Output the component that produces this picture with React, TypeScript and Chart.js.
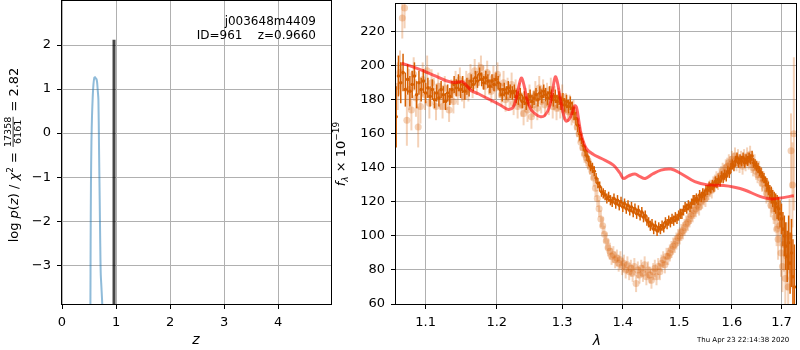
import React, { useEffect, useRef } from 'react';
import { Chart, registerables } from 'chart.js';

Chart.register(...registerables);

const FAMILY = '"DejaVu Sans", sans-serif';

// ---------- Left panel: log p(z) ----------
const zTicks = [0, 1, 2, 3, 4];
const logpTicks = [-3, -2, -1, 0, 1, 2];
const pzZ = [0.518, 0.526, 0.530, 0.536, 0.545, 0.556, 0.568, 0.582, 0.598, 0.612, 0.626, 0.640, 0.650, 0.660, 0.674, 0.686, 0.698, 0.708, 0.717, 0.730, 0.745, 0.760];
const pzLogP = [-5.0, -3.88, -2.5, -1.2, -0.2, 0.4, 0.8, 1.1, 1.26, 1.27, 1.24, 1.22, 1.15, 1.0, 0.76, -0.4, -1.52, -2.5, -3.18, -3.5, -3.88, -4.5];
const bestZ = [0.963, 0.963];
const bestLogP = [-5.0, 2.12];
const objName = 'j003648m4409';
const objInfo = 'ID=961    z=0.9660';

// ---------- Right panel: spectrum ----------
const lamTicks = [1.1, 1.2, 1.3, 1.4, 1.5, 1.6, 1.7];
const fluxTicks = [60, 80, 100, 120, 140, 160, 180, 200, 220];

const darkLam = [
  1.061, 1.064, 1.067, 1.070, 1.073, 1.076, 1.079, 1.082, 1.085, 1.088,
  1.091, 1.094, 1.097, 1.100, 1.103, 1.106, 1.109, 1.112, 1.115, 1.118,
  1.121, 1.124, 1.127, 1.130, 1.133, 1.136, 1.139, 1.142, 1.145, 1.148,
  1.151, 1.154, 1.157, 1.160, 1.163, 1.166, 1.169, 1.172, 1.175, 1.178,
  1.181, 1.184, 1.187, 1.190, 1.193, 1.196, 1.199, 1.202, 1.205, 1.208,
  1.211, 1.214, 1.217, 1.220, 1.223, 1.226, 1.229, 1.232, 1.235, 1.238,
  1.241, 1.244, 1.247, 1.250, 1.253, 1.256, 1.259, 1.262, 1.265, 1.268,
  1.271, 1.274, 1.277, 1.280, 1.283, 1.286, 1.289, 1.292, 1.295, 1.298,
  1.301, 1.304, 1.307, 1.310, 1.313, 1.316, 1.319, 1.322, 1.325, 1.328,
  1.331, 1.334, 1.337, 1.340, 1.343, 1.346, 1.349, 1.352, 1.355, 1.358,
  1.361, 1.364, 1.367, 1.370, 1.373, 1.376, 1.379, 1.382, 1.385, 1.388,
  1.391, 1.394, 1.397, 1.400, 1.403, 1.406, 1.409, 1.412, 1.415, 1.418,
  1.421, 1.424, 1.427, 1.430, 1.433, 1.436, 1.439, 1.442, 1.445, 1.448,
  1.451, 1.454, 1.457, 1.460, 1.463, 1.466, 1.469, 1.472, 1.475, 1.478,
  1.481, 1.484, 1.487, 1.490, 1.493, 1.496, 1.499, 1.502, 1.505, 1.508,
  1.511, 1.514, 1.517, 1.520, 1.523, 1.526, 1.529, 1.532, 1.535, 1.538,
  1.541, 1.544, 1.547, 1.550, 1.553, 1.556, 1.559, 1.562, 1.565, 1.568,
  1.571, 1.574, 1.577, 1.580, 1.583, 1.586, 1.589, 1.592, 1.595, 1.598,
  1.601, 1.604, 1.607, 1.610, 1.613, 1.616, 1.619, 1.622, 1.625, 1.628,
  1.631, 1.634, 1.637, 1.640, 1.643, 1.646, 1.649, 1.652, 1.655, 1.658,
  1.661, 1.664, 1.667, 1.670, 1.673, 1.676, 1.679, 1.682, 1.685, 1.688,
  1.691, 1.694, 1.697, 1.700, 1.703, 1.706, 1.709, 1.712, 1.715, 1.718,
  1.721, 1.724, 1.727,
];
const darkFlux = [
  170, 194, 190, 196, 186, 192, 185, 189, 194, 183,
  190, 186, 191, 184, 187, 182, 186, 180, 184, 181,
  186, 183, 179, 184, 182, 186, 189, 187, 190, 186,
  189, 185, 188, 187, 191, 189, 193, 191, 195, 192,
  190, 193, 191, 188, 191, 189, 192, 190, 186, 183,
  186, 184, 187, 185, 184, 185, 182, 181, 183, 179,
  181, 178, 180, 182, 179, 181, 183, 180, 184, 182,
  185, 183, 181, 184, 182, 180, 182, 179, 181, 178,
  180, 177, 179, 176, 178, 175, 172, 169, 165, 160,
  157, 153, 150, 147, 144, 141, 140, 138, 134, 131,
  129, 126, 125, 124, 122, 123, 121, 120, 122, 119,
  121, 118, 120, 117, 119, 116, 118, 115, 117, 114,
  116, 113, 115, 112, 114, 111, 112, 109, 108, 106,
  107, 104, 106, 103, 105, 104, 106, 105, 108, 107,
  109, 108, 110, 109, 111, 110, 112, 113, 113, 115,
  117, 116, 118, 117, 119, 121, 121, 122, 121, 124,
  123, 125, 124, 127, 127, 129, 128, 130, 129, 132,
  131, 133, 132, 135, 134, 136, 135, 138, 137, 140,
  142, 141, 144, 146, 143, 145, 144, 146, 143, 145,
  144, 146, 145, 147, 143, 142, 141, 140, 138, 137,
  135, 134, 132, 130, 128, 126, 124, 122, 120, 119,
  117, 116, 113, 110, 104, 100, 94, 88, 96, 84,
  90, 76, 70,
];
const darkErr = [
  18, 12, 12, 11, 10, 9, 9, 8, 8, 8,
  7, 7, 7, 6, 6, 6, 6, 5, 5, 5,
  5, 5, 5, 5, 5, 5, 5, 5, 5, 5,
  5, 5, 5, 5, 4, 4, 4, 4, 4, 4,
  4, 4, 4, 4, 4, 4, 4, 4, 4, 4,
  4, 4, 4, 4, 4, 4, 4, 4, 4, 4,
  4, 4, 4, 4, 4, 4, 4, 4, 4, 4,
  4, 4, 4, 4, 4, 4, 4, 4, 4, 4,
  4, 4, 4, 4, 4, 4, 4, 4, 4, 4,
  3, 3, 3, 3, 3, 3, 3, 3, 3, 3,
  3, 3, 3, 3, 3, 3, 3, 3, 3, 3,
  3, 3, 3, 3, 3, 3, 3, 3, 3, 3,
  3, 3, 3, 3, 3, 3, 3, 3, 3, 3,
  3, 3, 3, 3, 3, 3, 3, 3, 3, 3,
  3, 3, 3, 3, 3, 3, 3, 3, 3, 3,
  3, 3, 3, 3, 3, 3, 3, 3, 3, 3,
  3, 3, 3, 3, 3, 3, 3, 3, 3, 3,
  3, 3, 3, 3, 3, 3, 3, 3, 3, 3,
  3, 3, 3, 3, 3, 3, 3, 3, 3, 3,
  3, 3, 3, 3, 3, 3, 3, 3, 3, 3,
  3, 3, 3, 4, 4, 4, 5, 5, 6, 6,
  7, 7, 8, 9, 10, 12, 14, 15, 16, 18,
  20, 22, 25,
];

const lightLam = [
  1.063, 1.066, 1.069, 1.072, 1.075, 1.078, 1.081, 1.084, 1.087, 1.090,
  1.093, 1.096, 1.099, 1.102, 1.105, 1.108, 1.111, 1.114, 1.117, 1.120,
  1.123, 1.126, 1.129, 1.132, 1.135, 1.138, 1.141, 1.144, 1.147, 1.150,
  1.153, 1.156, 1.159, 1.162, 1.165, 1.168, 1.171, 1.174, 1.177, 1.180,
  1.183, 1.186, 1.189, 1.192, 1.195, 1.198, 1.201, 1.204, 1.207, 1.210,
  1.213, 1.216, 1.219, 1.222, 1.225, 1.228, 1.231, 1.234, 1.237, 1.240,
  1.243, 1.246, 1.249, 1.252, 1.255, 1.258, 1.261, 1.264, 1.267, 1.270,
  1.273, 1.276, 1.279, 1.282, 1.285, 1.288, 1.291, 1.294, 1.297, 1.300,
  1.303, 1.306, 1.309, 1.312, 1.315, 1.318, 1.321, 1.324, 1.327, 1.330,
  1.333, 1.336, 1.339, 1.342, 1.345, 1.348, 1.351, 1.354, 1.357, 1.360,
  1.363, 1.366, 1.369, 1.372, 1.375, 1.378, 1.381, 1.384, 1.387, 1.390,
  1.393, 1.396, 1.399, 1.402, 1.405, 1.408, 1.411, 1.414, 1.417, 1.420,
  1.423, 1.426, 1.429, 1.432, 1.435, 1.438, 1.441, 1.444, 1.447, 1.450,
  1.453, 1.456, 1.459, 1.462, 1.465, 1.468, 1.471, 1.474, 1.477, 1.480,
  1.483, 1.486, 1.489, 1.492, 1.495, 1.498, 1.501, 1.504, 1.507, 1.510,
  1.513, 1.516, 1.519, 1.522, 1.525, 1.528, 1.531, 1.534, 1.537, 1.540,
  1.543, 1.546, 1.549, 1.552, 1.555, 1.558, 1.561, 1.564, 1.567, 1.570,
  1.573, 1.576, 1.579, 1.582, 1.585, 1.588, 1.591, 1.594, 1.597, 1.600,
  1.603, 1.606, 1.609, 1.612, 1.615, 1.618, 1.621, 1.624, 1.627, 1.630,
  1.633, 1.636, 1.639, 1.642, 1.645, 1.648, 1.651, 1.654, 1.657, 1.660,
  1.663, 1.666, 1.669, 1.672, 1.675, 1.678, 1.681, 1.684, 1.687, 1.690,
  1.693, 1.696, 1.699, 1.702, 1.705, 1.708, 1.711, 1.714, 1.717, 1.720,
  1.723, 1.726,
];
const lightFlux = [
  188, 196, 228, 234, 168, 186, 174, 195, 181, 164,
  176, 192, 183, 197, 178, 190, 185, 176, 188, 182,
  176, 187, 181, 174, 185, 179, 190, 184, 192, 186,
  182, 190, 186, 194, 188, 197, 190, 195, 199, 193,
  188, 196, 190, 185, 193, 187, 195, 188, 183, 190,
  180, 186, 182, 189, 178, 185, 176, 183, 177, 172,
  180, 174, 182, 170, 177, 184, 175, 187, 179, 185,
  177, 183, 178, 186, 176, 181, 175, 180, 176, 182,
  174, 178, 173, 177, 171, 174, 168, 164, 160, 155,
  152, 148, 146, 144, 141, 138, 134, 128, 122, 116,
  110, 106, 101, 97, 93, 91, 88, 89, 86, 87,
  84, 86, 82, 84, 80, 83, 79, 81, 78, 82,
  72, 80, 77, 81, 78, 83, 76, 80, 77, 74,
  79, 81, 76, 82, 79, 84, 86, 83, 88, 88,
  90, 92, 94, 95, 97, 99, 100, 102, 103, 105,
  107, 108, 110, 112, 113, 115, 116, 118, 117, 120,
  121, 123, 122, 125, 126, 128, 127, 130, 131, 133,
  132, 135, 136, 138, 137, 140, 141, 143, 142, 145,
  144, 147, 143, 146, 142, 145, 141, 146, 143, 147,
  144, 148, 142, 140, 143, 138, 136, 139, 134, 131,
  133, 128, 125, 127, 122, 118, 121, 115, 111, 104,
  98, 106, 90, 82, 95, 75, 88, 70, 100, 150,
  130, 160,
];
const lightErr = [
  14, 13, 12, 12, 15, 12, 12, 10, 11, 12,
  10, 10, 9, 9, 9, 8, 8, 8, 8, 8,
  7, 7, 7, 7, 7, 7, 7, 7, 7, 7,
  7, 7, 7, 7, 7, 7, 7, 7, 7, 7,
  7, 7, 7, 7, 7, 7, 7, 7, 7, 7,
  7, 7, 7, 7, 7, 7, 7, 7, 7, 7,
  7, 7, 7, 7, 7, 7, 7, 7, 7, 7,
  7, 7, 7, 7, 7, 7, 7, 7, 7, 7,
  6, 6, 6, 6, 6, 6, 6, 6, 5, 5,
  5, 5, 5, 5, 5, 5, 5, 5, 5, 5,
  5, 5, 5, 5, 5, 5, 5, 5, 5, 5,
  5, 5, 5, 5, 5, 5, 5, 5, 5, 5,
  5, 5, 5, 5, 5, 5, 5, 5, 5, 5,
  5, 5, 5, 5, 5, 5, 5, 5, 5, 5,
  5, 5, 5, 5, 5, 5, 5, 5, 5, 5,
  5, 5, 5, 5, 5, 5, 5, 5, 5, 5,
  5, 5, 5, 5, 5, 5, 5, 5, 5, 5,
  5, 5, 5, 5, 5, 5, 5, 5, 5, 5,
  5, 5, 5, 5, 5, 5, 5, 5, 5, 5,
  5, 5, 5, 5, 5, 5, 5, 5, 5, 5,
  5, 5, 6, 6, 6, 7, 7, 8, 8, 10,
  12, 12, 14, 15, 16, 18, 20, 20, 22, 22,
  25, 45,
];

const modelLam = [
  1.068, 1.082, 1.097, 1.113, 1.128, 1.140, 1.149, 1.153, 1.163, 1.174,
  1.186, 1.198, 1.208, 1.217, 1.224, 1.229, 1.234, 1.237, 1.241, 1.245,
  1.251, 1.258, 1.266, 1.273, 1.280, 1.285, 1.289, 1.292, 1.296, 1.301,
  1.306, 1.311, 1.316, 1.320, 1.323, 1.327, 1.331, 1.339, 1.350, 1.364,
  1.384, 1.395, 1.401, 1.410, 1.421, 1.430, 1.439, 1.452, 1.467, 1.485,
  1.503, 1.529, 1.553, 1.584, 1.605, 1.625, 1.657, 1.676, 1.695, 1.726,
];
const modelFlux = [
  201.5, 199.5, 197, 194, 191.2, 190.2, 190.8, 190, 185.5, 183.4,
  180.8, 178.5, 176.2, 174.3, 175.5, 181, 190, 192.8, 188, 180.5,
  174.5, 171.7, 170, 171, 176, 186, 193.5, 191, 183, 173,
  167.5, 168.5, 172.5, 176.5, 175.5, 167, 159, 151.3, 148, 145.5,
  141.6, 137, 133.8, 135.3, 136.4, 134.8, 133.8, 136.4, 138.7, 139.3,
  136.7, 131.9, 130, 129.6, 128.6, 127, 123.1, 121.8, 122.2, 123.6,
];

const stamp = 'Thu Apr 23 22:14:38 2020';

const ORANGE = 'rgb(214,95,0)';
const ORANGE_LIGHT = 'rgba(214,95,0,0.28)';

type Seg = { text: string; size: number; italic?: boolean; dy?: number } | { num: string; den: string; size: number };

function fontStr(size: number, italic?: boolean) {
  return `${italic ? 'italic ' : ''}${size}px ${FAMILY}`;
}

function drawVerticalRich(ctx: CanvasRenderingContext2D, segs: Seg[], cx: number, cy: number, baseY: number) {
  ctx.save();
  ctx.translate(cx, cy);
  ctx.rotate(-Math.PI / 2);
  ctx.fillStyle = '#000';
  ctx.textBaseline = 'alphabetic';
  ctx.textAlign = 'left';
  const widths = segs.map((s: any) => {
    if ('num' in s) {
      ctx.font = fontStr(s.size);
      return Math.max(ctx.measureText(s.num).width, ctx.measureText(s.den).width) + 2;
    }
    ctx.font = fontStr(s.size, s.italic);
    return ctx.measureText(s.text).width;
  });
  const total = widths.reduce((a, b) => a + b, 0);
  let x = -total / 2;
  segs.forEach((s: any, i) => {
    const w = widths[i];
    if ('num' in s) {
      ctx.font = fontStr(s.size);
      ctx.textAlign = 'center';
      ctx.fillText(s.num, x + w / 2, baseY - 7);
      ctx.fillText(s.den, x + w / 2, baseY + 2.5);
      ctx.fillRect(x + 1, baseY - 5.6, w - 2, 0.8);
      ctx.textAlign = 'left';
    } else {
      ctx.font = fontStr(s.size, s.italic);
      ctx.fillText(s.text, x, baseY + (s.dy || 0));
    }
    x += w;
  });
  ctx.restore();
}

function drawFrame(chart: any) {
  const { ctx, chartArea: a } = chart;
  ctx.save();
  ctx.strokeStyle = '#000';
  ctx.lineWidth = 1;
  ctx.strokeRect(Math.round(a.left) - 0.5, Math.round(a.top) - 0.5, Math.round(a.right - a.left) + 1, Math.round(a.bottom - a.top) + 1);
  ctx.restore();
}

const errorBarPlugin = {
  id: 'errorBars',
  beforeDatasetDraw(chart: any, args: any) {
    const ds = chart.data.datasets[args.index];
    if (!ds.errors) return;
    const { ctx, chartArea: a } = chart;
    const ys = chart.scales.y;
    const meta = args.meta;
    ctx.save();
    ctx.beginPath();
    ctx.rect(a.left, a.top, a.right - a.left, a.bottom - a.top);
    ctx.clip();
    ctx.strokeStyle = ds.errorColor;
    ctx.lineWidth = ds.errorWidth;
    meta.data.forEach((pt: any, i: number) => {
      const v = ds.data[i].y;
      const e = ds.errors[i];
      ctx.beginPath();
      ctx.moveTo(pt.x, ys.getPixelForValue(v - e));
      ctx.lineTo(pt.x, ys.getPixelForValue(v + e));
      ctx.stroke();
    });
    ctx.restore();
  },
};

const leftDecor = {
  id: 'leftDecor',
  afterDraw(chart: any) {
    const ctx = chart.ctx as CanvasRenderingContext2D;
    drawFrame(chart);
    ctx.save();
    ctx.fillStyle = '#000';
    ctx.font = fontStr(12);
    ctx.textAlign = 'right';
    ctx.textBaseline = 'alphabetic';
    ctx.fillText(objName, 316, 25);
    ctx.fillText(objInfo, 316, 38.5);
    ctx.font = fontStr(14, true);
    ctx.textAlign = 'center';
    ctx.fillText('z', 196, 344);
    ctx.restore();
    drawVerticalRich(ctx, [
      { text: 'log ', size: 13 },
      { text: 'p', size: 13, italic: true },
      { text: '(', size: 13 },
      { text: 'z', size: 13, italic: true },
      { text: ') / ', size: 13 },
      { text: 'χ', size: 13, italic: true },
      { text: '2', size: 9, dy: -5 },
      { text: ' = ', size: 13 },
      { num: '17358', den: '6161', size: 9.5 },
      { text: ' = 2.82', size: 13 },
    ], 12, 155, 6.3);
  },
};

const RX = 330;
const rightDecor = {
  id: 'rightDecor',
  afterDraw(chart: any) {
    const ctx = chart.ctx as CanvasRenderingContext2D;
    drawFrame(chart);
    ctx.save();
    ctx.fillStyle = '#000';
    ctx.font = fontStr(14, true);
    ctx.textAlign = 'center';
    ctx.textBaseline = 'alphabetic';
    ctx.fillText('λ', 597 - RX, 345);
    ctx.font = fontStr(7);
    ctx.textAlign = 'left';
    ctx.fillText(stamp, 697 - RX, 341.5);
    ctx.restore();
    drawVerticalRich(ctx, [
      { text: 'f', size: 13, italic: true },
      { text: 'λ', size: 9, italic: true, dy: 3 },
      { text: ' × 10', size: 13 },
      { text: '−19', size: 9, dy: -6 },
    ], 339 - RX, 154, 6);
  },
};

function fixedTicks(vals: number[]) {
  return (scale: any) => {
    scale.ticks = vals.map((v) => ({ value: v }));
  };
}

function fitX(h: number) {
  return (s: any) => {
    s.height = h;
    s.paddingLeft = 0;
    s.paddingRight = 0;
    s.paddingTop = 0;
    s.paddingBottom = 0;
  };
}
function fitY(w: number) {
  return (s: any) => {
    s.width = w;
    s.paddingLeft = 0;
    s.paddingRight = 0;
    s.paddingTop = 0;
    s.paddingBottom = 0;
  };
}

function axisCommon() {
  return {
    grid: { color: '#b0b0b0', lineWidth: 1, tickColor: '#000', tickLength: 5, tickWidth: 1, drawTicks: true },
    border: { display: false },
  };
}

const tickFont = { family: FAMILY, size: 13 };

export default function App() {
  const leftRef = useRef<HTMLCanvasElement>(null);
  const rightRef = useRef<HTMLCanvasElement>(null);

  useEffect(() => {
    const left = new Chart(leftRef.current!, {
      type: 'scatter',
      data: {
        datasets: [
          {
            data: bestZ.map((z, i) => ({ x: z, y: bestLogP[i] })),
            showLine: true,
            borderColor: 'rgba(0,0,0,0.72)',
            borderWidth: 3,
            pointRadius: 0,
            clip: 0,
          } as any,
          {
            data: pzZ.map((z, i) => ({ x: z, y: pzLogP[i] })),
            showLine: true,
            borderColor: 'rgba(31,119,180,0.5)',
            borderWidth: 2,
            pointRadius: 0,
            tension: 0.3,
            clip: 0,
          } as any,
        ],
      },
      options: {
        animation: false,
        responsive: false,
        maintainAspectRatio: false,
        events: [],
        layout: { padding: { left: 0, right: 9, top: 1, bottom: 0 } },
        plugins: { legend: { display: false }, tooltip: { enabled: false } },
        scales: {
          x: {
            type: 'linear',
            min: 0,
            max: 4.98,
            afterBuildTicks: fixedTicks(zTicks),
            afterFit: fitX(46),
            ...axisCommon(),
            ticks: { font: tickFont, color: '#000', padding: 6, autoSkip: false, maxRotation: 0, callback: (v: any) => String(v) },
          } as any,
          y: {
            type: 'linear',
            min: -3.88,
            max: 3.0,
            afterBuildTicks: fixedTicks(logpTicks),
            afterFit: fitY(62),
            ...axisCommon(),
            ticks: { font: tickFont, color: '#000', padding: 6, autoSkip: false, callback: (v: any) => (v < 0 ? '−' + Math.abs(v) : String(v)) },
          } as any,
        },
      },
      plugins: [leftDecor],
    });

    const right = new Chart(rightRef.current!, {
      type: 'scatter',
      data: {
        datasets: [
          {
            data: modelLam.map((l, i) => ({ x: l, y: modelFlux[i] })),
            showLine: true,
            borderColor: 'rgba(255,0,0,0.6)',
            borderWidth: 3,
            pointRadius: 0,
            tension: 0.35,
            clip: 0,
          } as any,
          {
            data: darkLam.map((l, i) => ({ x: l, y: darkFlux[i] })),
            errors: darkErr,
            errorColor: ORANGE,
            errorWidth: 1.5,
            showLine: false,
            pointRadius: 1.8,
            pointBorderWidth: 0,
            backgroundColor: ORANGE,
            borderColor: ORANGE,
            clip: 0,
          } as any,
          {
            data: lightLam.map((l, i) => ({ x: l, y: lightFlux[i] })),
            errors: lightErr,
            errorColor: ORANGE_LIGHT,
            errorWidth: 2,
            showLine: false,
            pointRadius: 3.5,
            pointBorderWidth: 0,
            backgroundColor: ORANGE_LIGHT,
            borderColor: ORANGE_LIGHT,
            clip: 0,
          } as any,
        ],
      },
      options: {
        animation: false,
        responsive: false,
        maintainAspectRatio: false,
        events: [],
        layout: { padding: { left: 0, right: 1, top: 1, bottom: 0 } },
        plugins: { legend: { display: false }, tooltip: { enabled: false } },
        scales: {
          x: {
            type: 'logarithmic',
            min: 1.0608,
            max: 1.7305,
            afterBuildTicks: fixedTicks(lamTicks),
            afterFit: fitX(46),
            ...axisCommon(),
            ticks: { font: tickFont, color: '#000', padding: 6, autoSkip: false, maxRotation: 0, callback: (v: any) => Number(v).toFixed(1) },
          } as any,
          y: {
            type: 'linear',
            min: 60,
            max: 236.3,
            afterBuildTicks: fixedTicks(fluxTicks),
            afterFit: fitY(66),
            ...axisCommon(),
            ticks: { font: tickFont, color: '#000', padding: 6, autoSkip: false, callback: (v: any) => String(v) },
          } as any,
        },
      },
      plugins: [errorBarPlugin, rightDecor],
    });

    return () => {
      left.destroy();
      right.destroy();
    };
  }, []);

  return (
    <div style={{ position: 'fixed', left: 0, top: 0, width: 800, height: 350, background: '#fff', overflow: 'hidden' }}>
      <canvas ref={leftRef} width={340} height={350} style={{ position: 'absolute', left: 0, top: 0, width: 340, height: 350 }} />
      <canvas ref={rightRef} width={470} height={350} style={{ position: 'absolute', left: RX, top: 0, width: 470, height: 350 }} />
    </div>
  );
}
